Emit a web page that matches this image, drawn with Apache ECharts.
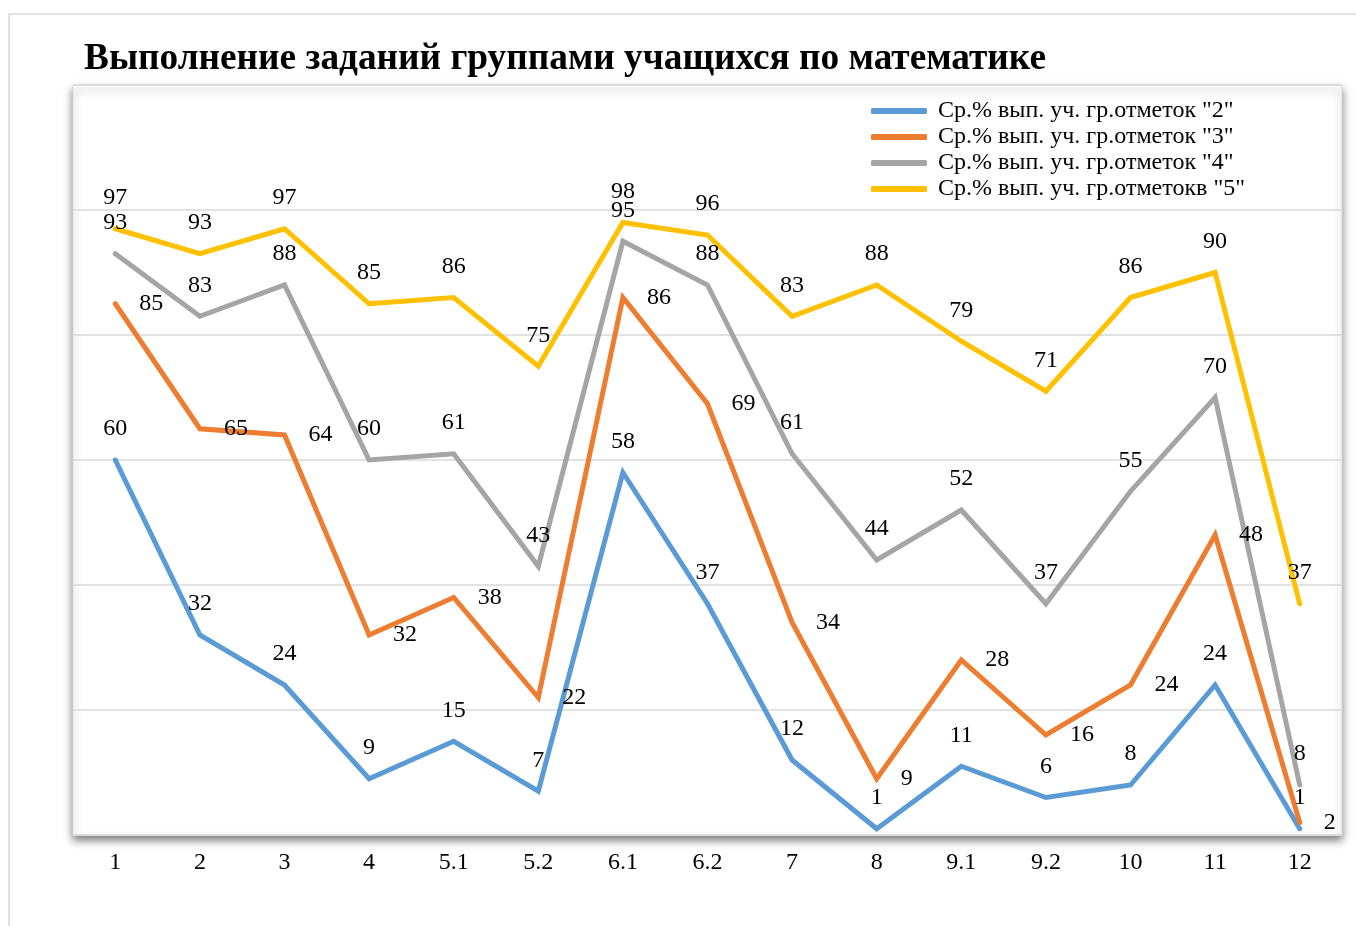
<!DOCTYPE html>
<html>
<head>
<meta charset="utf-8">
<title>Выполнение заданий группами учащихся по математике</title>
<script src="https://cdn.jsdelivr.net/npm/echarts@6/dist/echarts.min.js"></script>
<style>
  html, body { margin: 0; padding: 0; background: #fff; }
  #chart { width: 1356px; height: 926px; }
</style>
</head>
<body>
<div id="chart"></div>
<script>
// tasks on the x axis
const categories = ['1', '2', '3', '4', '5.1', '5.2', '6.1', '6.2', '7', '8', '9.1', '9.2', '10', '11', '12'];

// average % of task completion by grade group
const grade2 = [60, 32, 24, 9, 15, 7, 58, 37, 12, 1, 11, 6, 8, 24, 1];
const grade3 = [85, 65, 64, 32, 38, 22, 86, 69, 34, 9, 28, 16, 24, 48, 2];
const grade4 = [93, 83, 88, 60, 61, 43, 95, 88, 61, 44, 52, 37, 55, 70, 8];
const grade5 = [97, 93, 97, 85, 86, 75, 98, 96, 83, 88, 79, 71, 86, 90, 37];

const seriesNames = [
  'Ср.% вып. уч. гр.отметок "2"',
  'Ср.% вып. уч. гр.отметок "3"',
  'Ср.% вып. уч. гр.отметок "4"',
  'Ср.% вып. уч. гр.отметокв "5"'
];
const colors = ['#5B9BD5', '#ED7D31', '#A5A5A5', '#FFC000'];

const font = '"Liberation Serif", "Times New Roman", serif';

function makeSeries(name, data, color, labelPos) {
  return {
    name: name,
    type: 'line',
    data: data,
    symbol: 'circle',
    symbolSize: 4,
    itemStyle: { color: color },
    lineStyle: { color: color, width: 5, cap: 'round', join: 'miter' },
    label: {
      show: true,
      position: labelPos,
      distance: labelPos === 'top' ? 17 : 22,
      color: '#000',
      fontFamily: font,
      fontSize: 24
    },
    emphasis: { disabled: true },
    animation: false
  };
}

const chart = echarts.init(document.getElementById('chart'));
chart.setOption({
  backgroundColor: '#fff',
  color: colors,
  title: {
    text: 'Выполнение заданий группами учащихся по математике',
    left: 79,
    top: 36,
    textStyle: {
      fontFamily: font,
      fontWeight: 'bold',
      fontSize: 37.3,
      color: '#000'
    }
  },
  graphic: [{
    type: 'rect',
    z: -10,
    silent: true,
    shape: { x: 9, y: 14, width: 1400, height: 1000 },
    style: { fill: 'none', stroke: '#d9d9d9', lineWidth: 1.5 }
  }],
  legend: {
    orient: 'vertical',
    left: 866,
    top: 94,
    itemWidth: 56,
    itemHeight: 6,
    itemGap: 2,
    icon: 'roundRect',
    textStyle: {
      fontFamily: font,
      fontSize: 24,
      lineHeight: 24,
      color: '#000',
      padding: [0, 0, 0, 6]
    },
    data: seriesNames
  },
  grid: {
    left: 73,
    right: 14,
    top: 85,
    bottom: 91,
    show: true,
    backgroundColor: '#fff',
    borderColor: '#d9d9d9',
    borderWidth: 1,
    shadowBlur: 8,
    shadowOffsetY: 5,
    shadowColor: 'rgba(0,0,0,0.5)'
  },
  xAxis: {
    type: 'category',
    data: categories,
    boundaryGap: true,
    axisLine: { lineStyle: { color: '#d9d9d9', width: 1 } },
    axisTick: { show: false },
    axisLabel: {
      margin: 16,
      fontFamily: font,
      fontSize: 24,
      color: '#000'
    }
  },
  yAxis: {
    type: 'value',
    min: 0,
    max: 120,
    interval: 20,
    axisLabel: { show: false },
    axisLine: { show: false },
    axisTick: { show: false },
    splitLine: { lineStyle: { color: '#d9d9d9', width: 1.5 } }
  },
  series: [
    makeSeries(seriesNames[0], grade2, colors[0], 'top'),
    makeSeries(seriesNames[1], grade3, colors[1], 'right'),
    makeSeries(seriesNames[2], grade4, colors[2], 'top'),
    makeSeries(seriesNames[3], grade5, colors[3], 'top')
  ]
});
</script>
</body>
</html>
